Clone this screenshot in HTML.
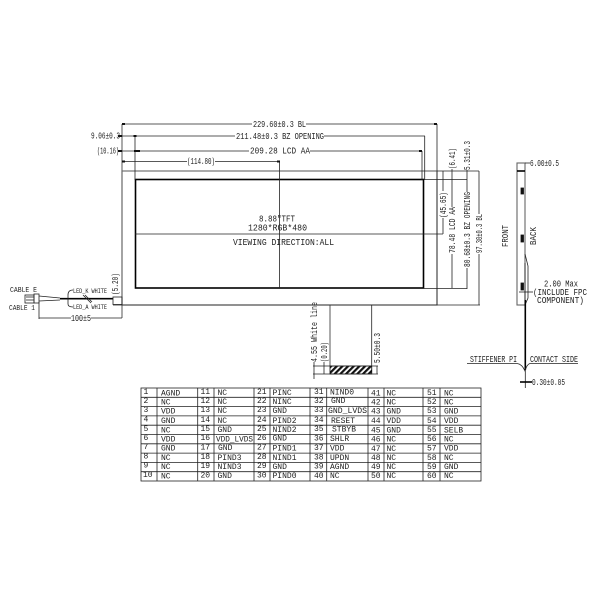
<!DOCTYPE html>
<html><head><meta charset="utf-8"><style>
html,body{margin:0;padding:0;background:#fff;width:600px;height:600px;overflow:hidden}
svg{display:block;filter:blur(.3px)}
text{font-family:"Liberation Mono",monospace;font-size:9px;fill:#222}
.t text{font-size:8px}
line,path,rect{fill:none;stroke:#222;stroke-width:.8}
.g{stroke:#666;stroke-width:1.1}
.k{stroke:#000;stroke-width:1.6}
.f{fill:#111;stroke:#111}
.a{fill:#111;stroke:none}
</style></head><body>
<svg width="600" height="600" viewBox="0 0 600 600" xmlns="http://www.w3.org/2000/svg">
<defs><pattern id="h" width="4" height="4" patternUnits="userSpaceOnUse" patternTransform="rotate(45)"><rect width="4" height="4" style="fill:#fff;stroke:none"/><rect width="2.2" height="4" style="fill:#111;stroke:none"/></pattern></defs>

<!-- main panel -->
<rect class="g" x="122" y="171" width="315" height="134"/>
<rect class="k" x="135.5" y="179.5" width="288" height="108.500"/>
<line x1="122" y1="124" x2="122" y2="318" class="g"/>
<line x1="135" y1="136" x2="135" y2="180"/>
<line x1="424.700" y1="136" x2="424.700" y2="180"/>
<line x1="422" y1="151" x2="422" y2="180"/>
<line x1="437" y1="124" x2="437" y2="305"/>
<line x1="279.500" y1="161" x2="279.500" y2="288"/>
<line x1="135" y1="234" x2="443" y2="234"/>
<!-- top dimensions -->
<line x1="122" y1="124" x2="252" y2="124"/><line x1="306" y1="124" x2="437" y2="124"/>
<line x1="120" y1="136" x2="235" y2="136"/><line x1="324" y1="136" x2="425" y2="136"/>
<line x1="119" y1="151" x2="249" y2="151"/><line x1="310" y1="151" x2="422" y2="151"/>
<line x1="122" y1="161.500" x2="187" y2="161.500"/><line x1="215" y1="161.500" x2="279.500" y2="161.500"/>
<rect class="a" x="122" y="123" width="3" height="2"/><rect class="a" x="434" y="123" width="3" height="2"/>
<rect class="a" x="133.500" y="135" width="3" height="2"/><rect class="a" x="118" y="135" width="4" height="2"/>
<rect class="a" x="118" y="150" width="4" height="2"/><rect class="a" x="134" y="150" width="3" height="2"/><rect class="a" x="137" y="150" width="3" height="2"/>
<rect class="a" x="419" y="150" width="3" height="2"/><rect class="a" x="122" y="160.500" width="3" height="2"/><rect class="a" x="277" y="160.500" width="3" height="2"/>
<text x="253" y="127" textLength="53" lengthAdjust="spacingAndGlyphs">229.60±0.3 BL</text>
<text x="236" y="139" textLength="88" lengthAdjust="spacingAndGlyphs">211.48±0.3 BZ OPENING</text>
<text x="250" y="153.500" textLength="60" lengthAdjust="spacingAndGlyphs">209.28 LCD AA</text>
<text x="91" y="138.500" textLength="29" lengthAdjust="spacingAndGlyphs">9.06±0.3</text>
<text x="97" y="153.500" textLength="22" lengthAdjust="spacingAndGlyphs">(10.16)</text>
<text x="187" y="164" textLength="28" lengthAdjust="spacingAndGlyphs">(114.80)</text>
<!-- centre text -->
<text x="259" y="221.500" textLength="36" lengthAdjust="spacingAndGlyphs">8.88"TFT</text>
<text x="248" y="230.500" textLength="59" lengthAdjust="spacingAndGlyphs">1280*RGB*480</text>
<text x="233" y="245" textLength="101" lengthAdjust="spacingAndGlyphs">VIEWING DIRECTION:ALL</text>
<!-- right dimensions -->
<line x1="437" y1="171" x2="479" y2="171"/>
<line x1="424" y1="179.500" x2="467" y2="179.500"/>
<line x1="424" y1="288.500" x2="467" y2="288.500"/>
<line x1="437" y1="305" x2="480" y2="305"/>
<line x1="443" y1="171" x2="443" y2="191"/><line x1="443" y1="218" x2="443" y2="234"/>
<line x1="452" y1="169" x2="452" y2="207"/><line x1="452" y1="254" x2="452" y2="288"/>
<line x1="467" y1="170" x2="467" y2="192"/><line x1="467" y1="268" x2="467" y2="289"/>
<line x1="479" y1="171" x2="479" y2="214"/><line x1="479" y1="254" x2="479" y2="305"/>
<text transform="translate(446,218) rotate(-90)" textLength="26" lengthAdjust="spacingAndGlyphs">(45.65)</text>
<text transform="translate(455,169) rotate(-90)" textLength="21" lengthAdjust="spacingAndGlyphs">(6.41)</text>
<text transform="translate(455,253) rotate(-90)" textLength="46" lengthAdjust="spacingAndGlyphs">78.48 LCD AA</text>
<text transform="translate(470,170) rotate(-90)" textLength="29" lengthAdjust="spacingAndGlyphs">5.31±0.3</text>
<text transform="translate(470,267) rotate(-90)" textLength="75" lengthAdjust="spacingAndGlyphs">80.68±0.3 BZ OPENING</text>
<text transform="translate(482,253) rotate(-90)" textLength="39" lengthAdjust="spacingAndGlyphs">97.30±0.3 BL</text>

<!-- FPC -->
<line x1="330" y1="305" x2="330" y2="366" class="g"/>
<line x1="371.700" y1="305" x2="371.700" y2="374"/>
<rect x="330" y="366" width="41.700" height="8" style="fill:url(#h);stroke:#111"/>
<line x1="313" y1="366" x2="378" y2="366"/><line x1="313" y1="374" x2="378" y2="374"/>
<line x1="314" y1="362" x2="314" y2="379"/><line x1="324" y1="362" x2="324" y2="374"/><line x1="377" y1="366" x2="377" y2="374"/>
<text transform="translate(317,362) rotate(-90)" textLength="60" lengthAdjust="spacingAndGlyphs">4.55 White line</text>
<text transform="translate(327,362) rotate(-90)" textLength="20" lengthAdjust="spacingAndGlyphs">(0.20)</text>
<text transform="translate(380,363) rotate(-90)" textLength="30" lengthAdjust="spacingAndGlyphs">5.50±0.3</text>

<!-- cable -->
<rect x="25" y="295" width="9" height="8"/>
<rect x="34" y="294" width="5" height="9"/>
<line x1="26" y1="297" x2="34" y2="297"/><line x1="26" y1="300" x2="34" y2="300"/>
<path d="M39 296 L60 298 M39 301 L60 300"/>
<line x1="60" y1="298.700" x2="113" y2="298.700" class="k"/>
<line x1="83" y1="295" x2="91" y2="303"/><line x1="85" y1="295" x2="92" y2="302"/>
<path d="M73 290 Q68 290 68 295 L68 304 Q68 307 73 307"/>
<rect x="113" y="297" width="9" height="7.500"/>
<line x1="113" y1="305" x2="437" y2="305"/>
<line x1="39" y1="302" x2="39" y2="319"/>
<line x1="39" y1="318" x2="71" y2="318"/><line x1="91" y1="318" x2="122" y2="318"/>
<text x="10" y="292" textLength="27" lengthAdjust="spacingAndGlyphs" style="font-size:7px">CABLE E</text>
<text x="9" y="310" textLength="26" lengthAdjust="spacingAndGlyphs" style="font-size:7px">CABLE 1</text>
<text x="73" y="293" textLength="34" lengthAdjust="spacingAndGlyphs" style="font-size:6px">LED_K WHITE</text>
<text x="73" y="309" textLength="34" lengthAdjust="spacingAndGlyphs" style="font-size:6px">LED_A WHITE</text>
<text x="71" y="321" textLength="20" lengthAdjust="spacingAndGlyphs">100±5</text>
<text transform="translate(118,295) rotate(-90)" textLength="22" lengthAdjust="spacingAndGlyphs">(5.20)</text>

<!-- side view -->
<rect class="g" x="517" y="163" width="8" height="142"/>
<line x1="517" y1="171" x2="525" y2="171" class="k"/>
<rect class="f" x="521" y="188" width="2.500" height="6"/>
<rect class="f" x="521" y="235" width="2.500" height="7"/>
<rect class="f" x="521" y="283" width="2.500" height="7"/>
<line x1="525" y1="163" x2="530" y2="163"/>
<text x="530" y="166" textLength="29" lengthAdjust="spacingAndGlyphs">6.00±0.5</text>
<text transform="translate(508,247) rotate(-90)" textLength="22" lengthAdjust="spacingAndGlyphs">FRONT</text>
<text transform="translate(536,245) rotate(-90)" textLength="18" lengthAdjust="spacingAndGlyphs">BACK</text>
<path d="M525 254 L528 266 L528 298 L525 305"/>
<line x1="525" y1="263" x2="525" y2="300"/>
<line x1="525.300" y1="300" x2="525.300" y2="370" class="k"/>
<line x1="519" y1="292" x2="533" y2="292"/>
<text x="544" y="286.500" textLength="34" lengthAdjust="spacingAndGlyphs">2.00 Max</text>
<text x="533" y="295" textLength="54" lengthAdjust="spacingAndGlyphs">(INCLUDE FPC</text>
<text x="537" y="303" textLength="47" lengthAdjust="spacingAndGlyphs">COMPONENT)</text>
<path d="M467 363.500 L517 363.500 Q522 364 525 371 Q527 364 530 363.500 L578 363.500"/>
<text x="470" y="362" textLength="47" lengthAdjust="spacingAndGlyphs">STIFFENER PI</text>
<text x="530" y="362" textLength="48" lengthAdjust="spacingAndGlyphs">CONTACT SIDE</text>
<line x1="525.300" y1="370" x2="525.300" y2="388"/>
<line x1="520" y1="382" x2="532" y2="382" class="k"/>
<text x="532" y="385" textLength="33" lengthAdjust="spacingAndGlyphs">0.30±0.05</text>

<!-- table -->
<rect x="141" y="388" width="340" height="93"/>
<path d="M141 397.300H481M141 406.600H481M141 415.900H481M141 425.200H481M141 434.500H481M141 443.800H481M141 453.100H481M141 462.400H481M141 471.700H481"/>
<path d="M157 388V481M197.700 388V481M214 388V481M254 388V481M270 388V481M310 388V481M326.700 388V481M368 388V481M384 388V481M423 388V481M440 388V481"/>
<g class="t">
<text x="143.500" y="394">1</text><text x="161" y="395.500">AGND</text><text x="200.500" y="394">11</text><text x="217.500" y="395">NC</text><text x="257" y="394">21</text><text x="272.500" y="395">PINC</text><text x="314" y="394">31</text><text x="330" y="394.500">NIND0</text><text x="371" y="395.500">41</text><text x="386.500" y="395.500">NC</text><text x="427" y="395">51</text><text x="444" y="395.500">NC</text>
<text x="143.500" y="403">2</text><text x="161" y="404.500">NC</text><text x="200.500" y="403">12</text><text x="217.500" y="404">NC</text><text x="257" y="403">22</text><text x="272.500" y="404">NINC</text><text x="314" y="403">32</text><text x="331" y="403">GND</text><text x="371" y="404.500">42</text><text x="386.500" y="404.500">NC</text><text x="427" y="404">52</text><text x="444" y="404.500">NC</text>
<text x="143.500" y="412">3</text><text x="161" y="413.500">VDD</text><text x="200.500" y="412">13</text><text x="217.500" y="413">NC</text><text x="257" y="412">23</text><text x="272.500" y="413">GND</text><text x="314" y="412">33</text><text x="328" y="413" textLength="39" lengthAdjust="spacingAndGlyphs">GND_LVDS</text><text x="371" y="413.500">43</text><text x="386.500" y="413.500">GND</text><text x="427" y="413">53</text><text x="444" y="413.500">GND</text>
<text x="143.500" y="421.500">4</text><text x="161" y="423">GND</text><text x="200.500" y="422">14</text><text x="217.500" y="423">NC</text><text x="257" y="422">24</text><text x="272.500" y="423">PIND2</text><text x="314" y="422">34</text><text x="331" y="423">RESET</text><text x="371" y="423">44</text><text x="386.500" y="423">VDD</text><text x="427" y="423">54</text><text x="444" y="423">VDD</text>
<text x="143.500" y="431">5</text><text x="161" y="432.500">NC</text><text x="200.500" y="431">15</text><text x="217.500" y="432">GND</text><text x="257" y="431">25</text><text x="272.500" y="432">NIND2</text><text x="314" y="431">35</text><text x="332" y="431.500">STBYB</text><text x="371" y="432.500">45</text><text x="386.500" y="432.500">GND</text><text x="427" y="432">55</text><text x="444" y="432.500">SELB</text>
<text x="143.500" y="440">6</text><text x="161" y="441.500">VDD</text><text x="200.500" y="440">16</text><text x="216" y="441.500" textLength="37" lengthAdjust="spacingAndGlyphs">VDD_LVDS</text><text x="257" y="440">26</text><text x="272.500" y="440.500">GND</text><text x="314" y="440.500">36</text><text x="330" y="441">SHLR</text><text x="371" y="441.500">46</text><text x="386.500" y="441.500">NC</text><text x="427" y="441">56</text><text x="444" y="441.500">NC</text>
<text x="143.500" y="449">7</text><text x="161" y="450.500">GND</text><text x="200.500" y="449.500">17</text><text x="218" y="450">GND</text><text x="257" y="449.500">27</text><text x="272.500" y="450.500">PIND1</text><text x="314" y="450">37</text><text x="330" y="450.500">VDD</text><text x="371" y="451">47</text><text x="386.500" y="451">NC</text><text x="427" y="450.500">57</text><text x="444" y="450.500">VDD</text>
<text x="143.500" y="458.500">8</text><text x="161" y="460">NC</text><text x="200.500" y="459">18</text><text x="217.500" y="460">PIND3</text><text x="257" y="459">28</text><text x="272.500" y="460">NIND1</text><text x="314" y="459.500">38</text><text x="330" y="460">UPDN</text><text x="371" y="460">48</text><text x="386.500" y="460">NC</text><text x="427" y="460">58</text><text x="444" y="460">NC</text>
<text x="143.500" y="467.500">9</text><text x="161" y="469">NC</text><text x="200.500" y="468">19</text><text x="217.500" y="469">NIND3</text><text x="257" y="468">29</text><text x="272.500" y="469">GND</text><text x="314" y="468.500">39</text><text x="330" y="469">AGND</text><text x="371" y="469">49</text><text x="386.500" y="469">NC</text><text x="427" y="469">59</text><text x="444" y="469">GND</text>
<text x="143" y="477">10</text><text x="161" y="478.500">NC</text><text x="200.500" y="477.500">20</text><text x="217.500" y="478">GND</text><text x="257" y="477.500">30</text><text x="272.500" y="478">PIND0</text><text x="314" y="478">40</text><text x="330" y="478">NC</text><text x="371" y="478">50</text><text x="386.500" y="478">NC</text><text x="427" y="478">60</text><text x="444" y="478">NC</text>
</g>
</svg>
</body></html>
